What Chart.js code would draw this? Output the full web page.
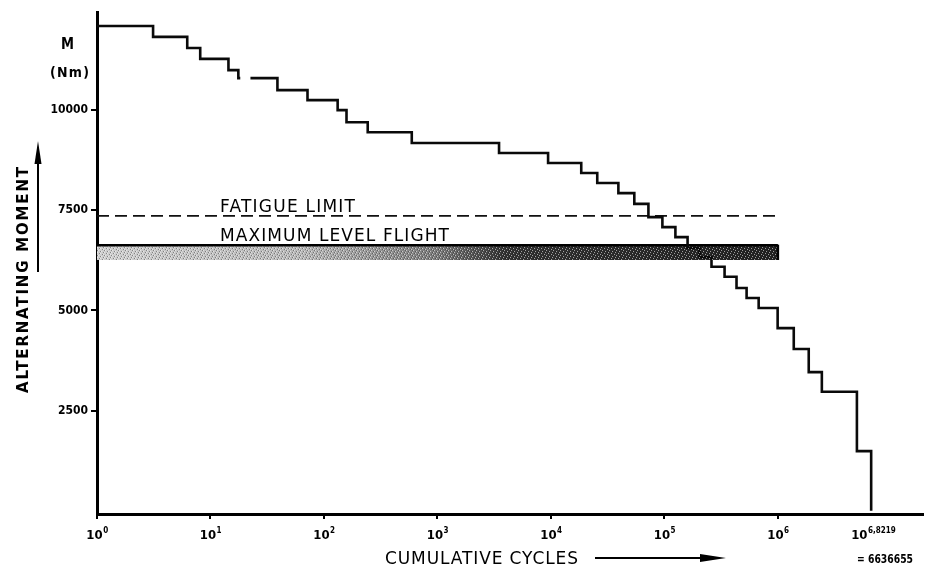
<!DOCTYPE html>
<html>
<head>
<meta charset="utf-8">
<title>Alternating moment vs cumulative cycles</title>
<script src="https://cdn.jsdelivr.net/npm/chart.js@4/dist/chart.umd.min.js"></script>
<style>
  body { margin: 0; background: #fff; }
  #chart_box { width: 926px; height: 570px; }
</style>
</head>
<body>
<div id="chart_box"><canvas id="myChart" width="926" height="570"></canvas></div>
<script>
//  data
const cumulative_cycles = [1, 3.12, 6.24, 8.12, 14.4, 17.6, 18.3, 20.3, 22.5, 38.9, 71.6, 132, 158, 243, 594,
  3490, 9440, 18500, 25600, 39300, 54300, 72300, 96000, 125000, 160000, 204000, 260000, 339000,
  432000, 530000, 677000, 995000, 1380000, 1870000, 2440000, 4970000, 6636655];
const moment_nm = [12100, 11830, 11550, 11280, 11000, 10800, 10800, null, 10800, 10500, 10250, 10000, 9700, 9450, 9180,
  8930, 8680, 8430, 8180, 7930, 7660, 7330, 7080, 6830, 6560, 6330, 6090, 5840,
  5560, 5310, 5060, 4560, 4040, 3460, 2970, 1490, 0];

const limit_cycles = [1, 1000000];
const fatigue_limit = [7360, 7360];
const level_flight_top = [6630, 6630];
const level_flight_bottom = [6260, 6260];

const x_tick_values = [1, 10, 100, 1000, 10000, 100000, 1000000, 6636655];
const x_tick_exponents = ['0', '1', '2', '3', '4', '5', '6', '6,8219'];
const y_tick_values = [2500, 5000, 7500, 10000];

const to_points = (xs, ys) => xs.map((x, i) => ({ x: x, y: ys[i] }));

//  helpers for the lettering
function fit_text(ctx, text, x, y, width) {
  ctx.save();
  ctx.letterSpacing = '0px';
  const w = ctx.measureText(text).width;
  const gap = (width - w) / (text.length - 1);
  if (gap >= 0) {
    ctx.letterSpacing = gap + 'px';
    ctx.fillText(text, x, y);
  } else {
    ctx.translate(x, y);
    ctx.scale(width / w, 1);
    ctx.fillText(text, 0, 0);
  }
  ctx.restore();
}

function band_fill(context) {
  const area = context.chart.chartArea;
  if (!area) return '#999';
  const g = context.chart.ctx.createLinearGradient(area.left, 0, area.left + 680, 0);
  g.addColorStop(0, '#cfcfcf');
  g.addColorStop(0.3, '#b8b8b8');
  g.addColorStop(0.5, '#7a7a7a');
  g.addColorStop(0.6, '#333');
  g.addColorStop(1, '#222');
  return g;
}

// small stipple tile, laid over the band to look like the printed screen
function make_stipple() {
  const tile = document.createElement('canvas');
  tile.width = 7;
  tile.height = 5;
  const t = tile.getContext('2d');
  for (let i = 0; i < 7; i++) {
    for (let j = 0; j < 5; j++) {
      const k = (i * 3 + j * 5) % 7;
      if (k === 0) { t.fillStyle = 'rgba(255,255,255,0.55)'; t.fillRect(i, j, 1, 1); }
      if (k === 4) { t.fillStyle = 'rgba(0,0,0,0.35)'; t.fillRect(i, j, 1, 1); }
    }
  }
  return tile;
}
const stipple_tile = make_stipple();

//  annotations plugin
const lettering = {
  id: 'lettering',
  afterDatasetsDraw(chart) {
    const ctx = chart.ctx;
    const xs = chart.scales.x;
    const ys = chart.scales.y;
    const x0 = xs.getPixelForValue(limit_cycles[0]);
    const x1 = xs.getPixelForValue(limit_cycles[1]);
    const y0 = ys.getPixelForValue(level_flight_top[0]) + 1.5;
    const y1 = ys.getPixelForValue(level_flight_bottom[0]);
    ctx.save();
    ctx.fillStyle = ctx.createPattern(stipple_tile, 'repeat');
    ctx.fillRect(x0, y0, x1 - x0, y1 - y0);
    // right edge of the band
    ctx.strokeStyle = '#000';
    ctx.lineWidth = 2.5;
    ctx.beginPath();
    ctx.moveTo(x1, y0 - 2);
    ctx.lineTo(x1, y1);
    ctx.stroke();
    ctx.restore();
  },
  afterDraw(chart) {
    const ctx = chart.ctx;
    const xs = chart.scales.x;
    ctx.save();
    ctx.fillStyle = '#000';
    ctx.strokeStyle = '#000';
    ctx.textAlign = 'left';
    ctx.textBaseline = 'alphabetic';

    // x tick labels 10^n
    x_tick_values.forEach((v, i) => {
      const px = xs.getPixelForValue(v);
      ctx.font = 'bold 13px "DejaVu Sans Condensed", "DejaVu Sans"';
      const w1 = ctx.measureText('10').width;
      ctx.font = 'bold 8px "DejaVu Sans Condensed", "DejaVu Sans"';
      const w2 = ctx.measureText(x_tick_exponents[i]).width;
      let left = px - (w1 + w2) / 2;
      if (i === x_tick_values.length - 1) left = px - 20;
      ctx.font = 'bold 13px "DejaVu Sans Condensed", "DejaVu Sans"';
      ctx.fillText('10', left, 539);
      ctx.font = 'bold 8px "DejaVu Sans Condensed", "DejaVu Sans"';
      ctx.fillText(x_tick_exponents[i], left + w1 + 0.5, 533);
    });

    ctx.font = 'bold 13px "DejaVu Sans Condensed", "DejaVu Sans"';
    fit_text(ctx, '= 6636655', 857, 563, 56);

    // unit label
    ctx.font = 'bold 15px "DejaVu Sans Condensed", "DejaVu Sans"';
    fit_text(ctx, 'M', 61, 49, 13);
    ctx.font = 'bold 14px "DejaVu Sans Condensed", "DejaVu Sans"';
    fit_text(ctx, '(Nm)', 50, 77, 39);

    // line labels
    ctx.font = '17px "DejaVu Sans"';
    fit_text(ctx, 'FATIGUE LIMIT', 220, 212, 135);
    fit_text(ctx, 'MAXIMUM LEVEL FLIGHT', 220, 241, 229);

    // x title + arrow
    ctx.font = '17px "DejaVu Sans"';
    fit_text(ctx, 'CUMULATIVE CYCLES', 385, 564, 193);
    ctx.lineWidth = 2;
    ctx.beginPath();
    ctx.moveTo(595, 558);
    ctx.lineTo(704, 558);
    ctx.stroke();
    ctx.beginPath();
    ctx.moveTo(726, 558);
    ctx.lineTo(700, 554);
    ctx.lineTo(700, 562);
    ctx.closePath();
    ctx.fill();

    // y title + arrow
    ctx.save();
    ctx.translate(28, 393);
    ctx.rotate(-Math.PI / 2);
    ctx.font = 'bold 15px "DejaVu Sans"';
    fit_text(ctx, 'ALTERNATING MOMENT', 0, 0, 226);
    ctx.restore();
    ctx.beginPath();
    ctx.moveTo(38, 272);
    ctx.lineTo(38, 160);
    ctx.stroke();
    ctx.beginPath();
    ctx.moveTo(38, 141);
    ctx.lineTo(34.5, 164);
    ctx.lineTo(41.5, 164);
    ctx.closePath();
    ctx.fill();

    ctx.restore();
  }
};

//  Chart-JS starts
const ctx = document.getElementById('myChart').getContext('2d');
const myChart = new Chart(ctx, {
  type: 'line',
  data: {
    datasets: [
      {
        label: 'Load spectrum',
        data: to_points(cumulative_cycles, moment_nm),
        stepped: 'before',
        borderColor: '#0a0a0a',
        borderWidth: 2.6,
        pointRadius: 0,
        spanGaps: false,
        fill: false
      },
      {
        label: 'Fatigue limit',
        data: to_points(limit_cycles, fatigue_limit),
        borderColor: '#111',
        borderWidth: 1.8,
        borderDash: [12, 6],
        pointRadius: 0,
        fill: false
      },
      {
        label: 'Maximum level flight',
        data: to_points(limit_cycles, level_flight_top),
        borderColor: '#000',
        borderWidth: 2.5,
        pointRadius: 0,
        backgroundColor: band_fill,
        fill: '+1'
      },
      {
        label: 'band bottom',
        data: to_points(limit_cycles, level_flight_bottom),
        borderColor: 'rgba(0,0,0,0)',
        borderWidth: 0,
        pointRadius: 0,
        fill: false
      }
    ]
  },
  options: {
    responsive: false,
    animation: false,
    events: [],
    layout: { padding: { top: 12, right: 3, left: 0, bottom: 0 } },
    plugins: {
      legend: { display: false },
      tooltip: { enabled: false }
    },
    scales: {
      x: {
        type: 'logarithmic',
        min: 1,
        max: 19000000,
        border: { display: true, color: '#000', width: 3 },
        grid: { display: true, drawOnChartArea: false, drawTicks: true, tickLength: 5, color: '#000', lineWidth: 2 },
        ticks: { display: false },
        afterBuildTicks: (s) => { s.ticks = x_tick_values.slice(0, 7).map(v => ({ value: v })); },
        afterFit: (s) => { s.height = 56; }
      },
      y: {
        type: 'linear',
        min: -80,
        max: 12450,
        border: { display: true, color: '#000', width: 3 },
        grid: { display: true, drawOnChartArea: false, drawTicks: true, tickLength: 6, color: '#000', lineWidth: 2 },
        ticks: {
          color: '#000',
          padding: 3,
          font: { family: '"DejaVu Sans Condensed", "DejaVu Sans"', size: 12, weight: 'bold' },
          callback: (v) => String(v)
        },
        afterBuildTicks: (s) => { s.ticks = y_tick_values.map(v => ({ value: v })); },
        afterFit: (s) => { s.width = 97; }
      }
    }
  },
  plugins: [lettering]
});
//  Chart-JS ends
</script>
</body>
</html>
